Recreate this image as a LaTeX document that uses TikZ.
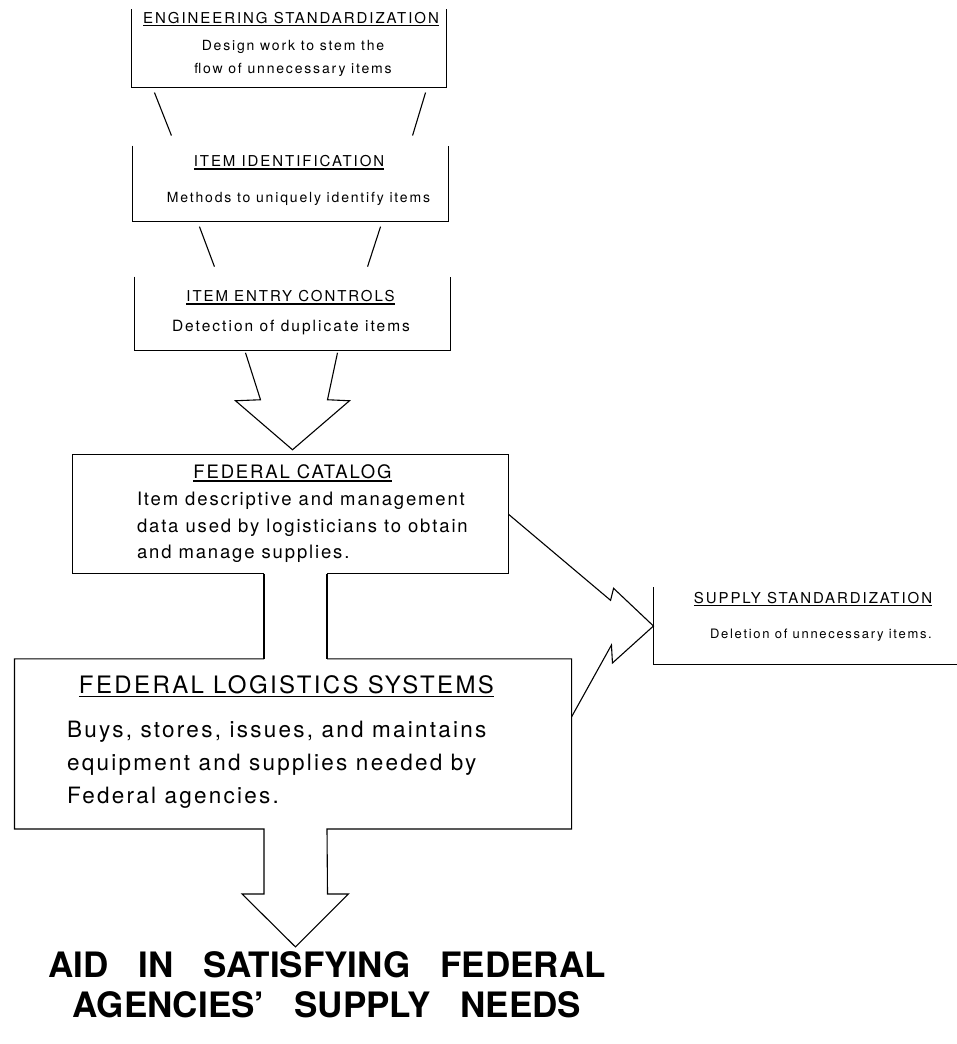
\documentclass[tikz,border=0pt]{standalone}
\usepackage{fontspec}
\setmainfont{TeX Gyre Heros}
\newfontfamily\trackedsans[LetterSpace=13]{TeX Gyre Heros}
\newfontfamily\bodysans[LetterSpace=10]{TeX Gyre Heros}
\usetikzlibrary{positioning, calc}

\newsavebox{\headbox}
\newcommand{\underhead}[1]{\sbox{\headbox}{#1}\rlap{\rule[-3pt]{\wd\headbox}{1.3pt}}\usebox{\headbox}}
\newcommand{\widewords}{\spaceskip=30pt\relax}

\begin{document}
\begin{tikzpicture}[
        x=1pt, y=-1pt,
        line width=1.1pt, line join=miter,
        panel/.style={inner sep=0pt, minimum width=315pt},
        txt/.style={inner sep=0pt, anchor=base},
        smallhead/.style={txt, font=\trackedsans\fontsize{15}{18}\selectfont},
        smalltext/.style={txt, font=\trackedsans\fontsize{14}{23}\selectfont, align=center},
        midhead/.style={txt, font=\bodysans\fontsize{18.5}{22}\selectfont},
        midtext/.style={txt, anchor=base west, font=\bodysans\fontsize{18.5}{26.5}\selectfont, align=left},
        bighead/.style={txt, font=\bodysans\fontsize{24}{28}\selectfont},
        bigtext/.style={txt, anchor=base west, font=\bodysans\fontsize{22.5}{33}\selectfont, align=left},
        goal/.style={txt, align=center, font=\bfseries\fontsize{35}{40}\selectfont\widewords}
    ]
        \useasboundingbox (0,0) rectangle (956,1044);

        % Boxes
        \node[panel, minimum width=314pt, minimum height=77pt] (eng) at (289,48.5) {};
        \node[panel, minimum height=75pt, below=58pt of eng, xshift=1.5pt] (ident) {};
        \node[panel, minimum height=73pt, below=55pt of ident, xshift=2pt] (entry) {};
        \node[panel, minimum width=435pt, minimum height=118pt, below=104pt of entry, xshift=-2pt] (cat) {};
        \node[panel, minimum width=556pt, minimum height=169pt, below=85pt of cat, xshift=2.5pt] (logi) {};
        \node[panel, minimum width=302pt, minimum height=76pt] (supply) at (805,626) {};

        % Open-top boxes
        \draw (eng.north west) |- (eng.south east) -- (eng.north east);
        \draw (ident.north west) |- (ident.south east) -- (ident.north east);
        \draw (entry.north west) |- (entry.south east) -- (entry.north east);
        \draw (supply.north west) |- (supply.south east);

        % Links between the top boxes
        \draw ($(eng.south west)+(23,5)$) -- ($(ident.north west)+(39,-10)$);
        \draw ($(eng.south east)+(-21,5)$) -- ($(ident.north east)+(-36,-10)$);
        \draw ($(ident.south west)+(67,5)$) -- ($(entry.north west)+(80,-10)$);
        \draw ($(ident.south east)+(-68,5)$) -- ($(entry.north east)+(-83,-10)$);

        % Arrow into the catalog
        \draw ($(entry.south)+(-47,2)$) -- ++(15,47) -- ++(-25,1) -- ($(cat.north)+(2,-5)$)
            -- ++(57,-49) -- ++(-22,-1) -- ($(entry.south)+(45,2)$);

        % Catalog and logistics with the shaft between them
        \coordinate (shaftL) at ($(cat.south)+(-26.5,0)$);
        \coordinate (shaftR) at ($(cat.south)+(36.5,0)$);
        \coordinate (neckL) at (shaftL |- logi.south);
        \coordinate (neckR) at (shaftR |- logi.south);
        \draw (shaftL) -| (cat.north west) -| (cat.south east) -- (shaftR);
        \draw (shaftL) -- (shaftL |- logi.north);
        \draw (shaftR) -- (shaftR |- logi.north);
        \draw (shaftL |- logi.north) -| (logi.south west) -- (neckL) -- ++(0,65) -- ++(-22,0)
            -- ($(neckL)!0.5!(neckR)+(0,118)$) -- ++(53,-53) -- ++(-21,0) -- (neckR)
            -| (logi.north east) -- (shaftR |- logi.north);

        % Lightning arrow to supply standardization
        \draw (cat.east) -- ++(102,86) -- ++(3,-12) -- (supply.west) -- ++(-41,37) -- ++(-1,-18)
            -- ($(logi.east)+(0,-27)$);

        % Texts (multi-line nodes sit on their last baseline)
        \node[smallhead] (engHead) at ($(eng.north)+(2,14)$) {\underhead{ENGINEERING STANDARDIZATION}};
        \node[smalltext] (engText) at ($(eng.north)+(4,64)$) {Design work to stem the\\flow of unnecessary items};
        \node[smallhead] (identHead) at ($(ident.north)+(-1.5,21)$) {\underhead{ITEM IDENTIFICATION}};
        \node[smalltext] (identText) at ($(ident.north)+(8,57)$) {Methods to uniquely identify items};
        \node[smallhead] (entryHead) at ($(entry.north)+(-2,25)$) {\underhead{ITEM ENTRY CONTROLS}};
        \node[smalltext, font=\trackedsans\fontsize{15.5}{18}\selectfont] (entryText) at ($(entry.north)+(-1.5,55)$) {Detection of duplicate items};
        \node[midhead] (catHead) at ($(cat.north)+(2,24)$) {\underhead{FEDERAL CATALOG}};
        \node[midtext] (catText) at ($(cat.north west)+(64,104)$) {Item descriptive and management\\data used by logisticians to obtain\\and manage supplies.};
        \node[bighead] (logiHead) at ($(logi.north)+(-6.5,35)$) {\underhead{FEDERAL LOGISTICS SYSTEMS}};
        \node[bigtext] (logiText) at ($(logi.north west)+(52,145)$) {Buys, stores, issues, and maintains\\equipment and supplies needed by\\Federal agencies.};
        \node[smallhead] (supplyHead) at ($(supply.north)+(8,16)$) {\underhead{SUPPLY STANDARDIZATION}};
        \node[smalltext, font=\trackedsans\fontsize{13}{16}\selectfont] (supplyText) at ($(supply.north)+(16,51)$) {Deletion of unnecessary items.};

        % Outcome
        \node[goal] (aid) at (327,1017) {AID IN SATISFYING FEDERAL\\AGENCIES' SUPPLY NEEDS};
    \end{tikzpicture}
\end{document}
